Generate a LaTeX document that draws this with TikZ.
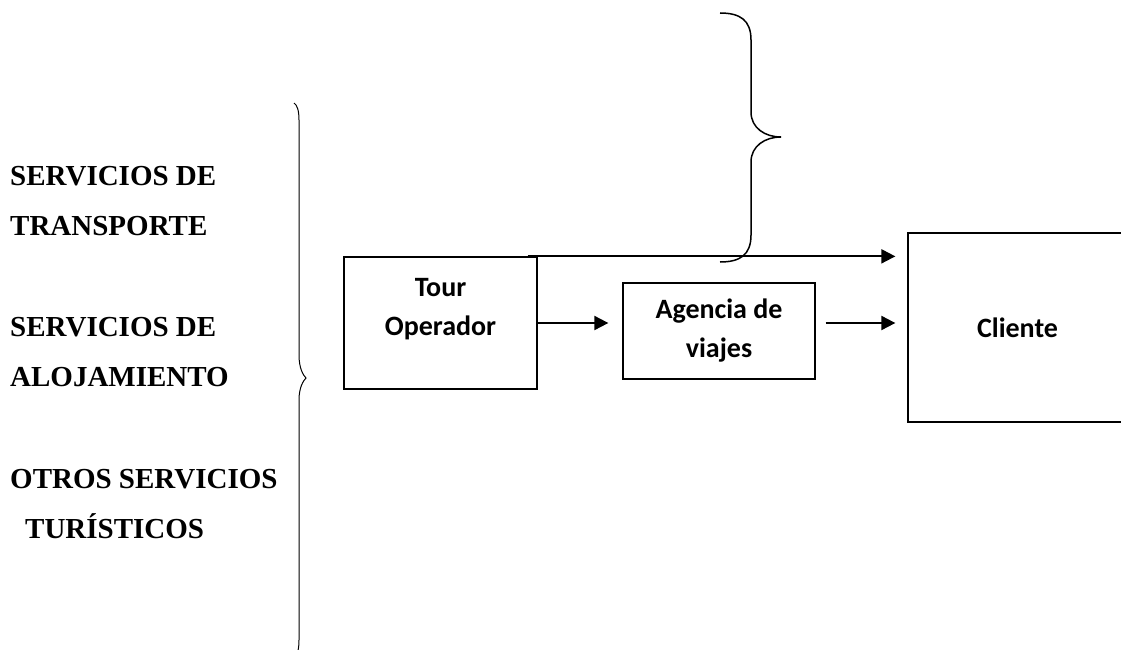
\documentclass[tikz,border=0pt]{standalone}
\usepackage{fontspec}
\setmainfont{Liberation Serif}
\newfontfamily\boxfont{Carlito}
\usetikzlibrary{arrows.meta}

\tikzset{
  servicio/.style={anchor=west, inner sep=0pt, align=left, font=\bfseries\fontsize{29}{50}\selectfont},
  rotulo/.style={inner sep=0pt, align=center, font=\boxfont\bfseries\fontsize{28}{39}\selectfont},
  caja/.style={rotulo, draw, line width=1.3pt},
  flecha/.style={line width=2pt, -{Triangle[length=14pt,width=14pt]}},
}

\begin{document}
\begin{tikzpicture}[x=1pt, y=-1pt]
\clip (0,0) rectangle (1121,650);
% servicios
\node[servicio] (transp) at (10,201.5) {SERVICIOS DE\\TRANSPORTE};
\node[servicio] (aloj) at (10,352.5) {SERVICIOS DE\\ALOJAMIENTO};
\node[servicio] (otros) at (10,504) {OTROS SERVICIOS\\\hspace*{15pt}TURÍSTICOS};
% llave izquierda
\draw[line width=1pt] (294,103) .. controls (297,105) and (299,110) .. (299,120) -- (299,355)
  .. controls (299,368) and (303,375) .. (306,378) .. controls (303,381) and (299,388) .. (299,400)
  -- (299,640) .. controls (299,650) and (297,655) .. (295,658);
% cajas
\node[caja, minimum width=193pt, minimum height=132pt] (tour) at (440.5,323) {};
\node[rotulo] (tourtxt) at (440.5,309) {Tour\\Operador};
\node[caja, minimum width=192pt, minimum height=96pt] (agencia) at (719,331) {Agencia de\\viajes};
\node[caja, minimum width=219pt, minimum height=189pt] (cliente) at (1017.5,327.5) {Cliente};
% flechas
\draw[flecha, shorten >=12pt] ([xshift=-10pt]tour.north east) -- (tour.north east -| cliente.west);
\draw[flecha, shorten >=14pt] (tour.east) -- (tour.east -| agencia.west);
\draw[flecha, shorten <=10pt, shorten >=12pt] (agencia.east |- tour.east) -- (tour.east -| cliente.west);
% llave superior
\draw[line width=1.5pt] (720,13) .. controls (740,13) and (751,20) .. (751,40) -- (751,112)
  .. controls (751,128) and (765,137) .. (781,137) .. controls (765,137) and (751,146) .. (751,162)
  -- (751,235) .. controls (751,255) and (740,262) .. (720,262);
\end{tikzpicture}
\end{document}
